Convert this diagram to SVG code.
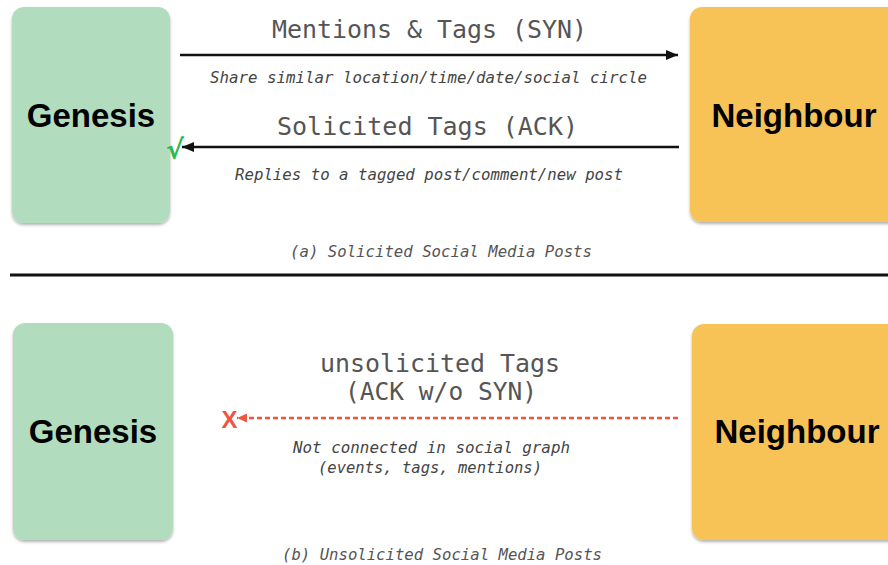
<svg xmlns="http://www.w3.org/2000/svg" width="888" height="565" viewBox="0 0 888 565">
<style>
.node-g{fill:#b2dcbe}
.node-o{fill:#f8c357}
.lbl{font-family:"Liberation Sans",Arial,sans-serif;font-weight:bold;font-size:33px;fill:#000;text-anchor:middle}
.title{font-family:"DejaVu Sans Mono","Liberation Mono",monospace;font-size:24px;fill:#555;text-anchor:middle}
.sub{font-family:"DejaVu Sans Mono","Liberation Mono",monospace;font-style:italic;font-size:15.5px;fill:#444;text-anchor:middle}
.cap{font-family:"DejaVu Sans Mono","Liberation Mono",monospace;font-style:italic;font-size:15px;fill:#555;text-anchor:middle}
.arr{stroke:#111;stroke-width:2.5;fill:none}
.dash{stroke:#f0553f;stroke-width:2.4;stroke-dasharray:5 3;fill:none}
</style>
<defs>
<filter id="sh" x="-10%" y="-10%" width="120%" height="120%">
<feDropShadow dx="0" dy="2" stdDeviation="1.5" flood-color="#000" flood-opacity="0.3"/>
</filter>
<marker id="ah" markerWidth="12" markerHeight="10" refX="12" refY="5" orient="auto" markerUnits="userSpaceOnUse">
<path d="M0,0 L12,5 L0,10 Z" fill="#111"/>
</marker>
<marker id="ahr" markerWidth="10" markerHeight="9" refX="10" refY="4.5" orient="auto" markerUnits="userSpaceOnUse">
<path d="M0,0 L10,4.5 L0,9 Z" fill="#f0553f"/>
</marker>
</defs>
<rect width="888" height="565" fill="#fff"/>

<g id="genesis-a">
<rect class="node-g" x="12" y="7" width="158" height="216" rx="12" filter="url(#sh)"/>
<text class="lbl" x="91" y="127">Genesis</text>
</g>
<g id="neighbour-a">
<rect class="node-o" x="690" y="7" width="220" height="215" rx="12" filter="url(#sh)"/>
<text class="lbl" x="794" y="127">Neighbour</text>
</g>
<g id="genesis-b">
<rect class="node-g" x="13" y="323" width="160" height="217" rx="12" filter="url(#sh)"/>
<text class="lbl" x="93" y="443">Genesis</text>
</g>
<g id="neighbour-b">
<rect class="node-o" x="692" y="324" width="220" height="216" rx="12" filter="url(#sh)"/>
<text class="lbl" x="797" y="443">Neighbour</text>
</g>

<g id="connectors">
<line class="arr" x1="180" y1="55" x2="678" y2="55" marker-end="url(#ah)"/>
<line class="arr" x1="679" y1="147" x2="182" y2="147" marker-end="url(#ah)"/>
<line class="dash" x1="678" y1="418" x2="237" y2="418" marker-end="url(#ahr)"/>
</g>

<g id="labels">
<text class="title" x="429.5" y="38" textLength="315" lengthAdjust="spacingAndGlyphs">Mentions &amp; Tags (SYN)</text>
<text class="sub" x="428.5" y="83" textLength="437" lengthAdjust="spacingAndGlyphs">Share similar location/time/date/social circle</text>
<text class="title" x="427.5" y="135" textLength="301" lengthAdjust="spacingAndGlyphs">Solicited Tags (ACK)</text>
<text class="sub" x="429" y="180" textLength="388" lengthAdjust="spacingAndGlyphs">Replies to a tagged post/comment/new post</text>
<text class="cap" x="441" y="257" textLength="302" lengthAdjust="spacingAndGlyphs">(a) Solicited Social Media Posts</text>
<text class="title" x="440" y="372" textLength="240" lengthAdjust="spacingAndGlyphs">unsolicited Tags</text>
<text class="title" x="441" y="400" textLength="192" lengthAdjust="spacingAndGlyphs">(ACK w/o SYN)</text>
<text class="sub" x="431.5" y="453" textLength="277" lengthAdjust="spacingAndGlyphs">Not connected in social graph</text>
<text class="sub" x="430" y="473" textLength="224" lengthAdjust="spacingAndGlyphs">(events, tags, mentions)</text>
<text class="cap" x="442" y="560" textLength="320" lengthAdjust="spacingAndGlyphs">(b) Unsolicited Social Media Posts</text>
<text x="175" y="159" font-family="DejaVu Sans,sans-serif" font-weight="bold" font-size="27" fill="#2db84b" text-anchor="middle">√</text>
<text x="229.5" y="428" font-family="Liberation Sans,Arial,sans-serif" font-weight="bold" font-size="24" fill="#f0553f" text-anchor="middle">X</text>
</g>

<line x1="10" y1="275" x2="888" y2="275" stroke="#111" stroke-width="3"/>
</svg>
